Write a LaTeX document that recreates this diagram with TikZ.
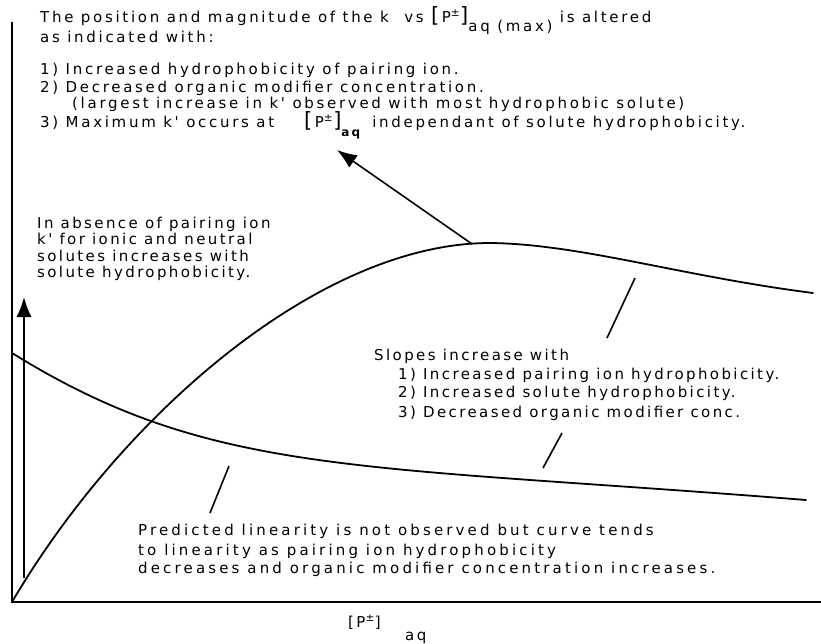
\documentclass[tikz,border=0pt]{standalone}
\usepackage{fontspec}
\usetikzlibrary{arrows.meta}
\newfontfamily\topfont{DejaVu Sans}[LetterSpace=18]
\newfontfamily\midfont{DejaVu Sans}[LetterSpace=16]
\newfontfamily\botfont{DejaVu Sans}[LetterSpace=21]
\newfontfamily\brfont{DejaVu Sans}
\newcommand\toplbl{\topfont\fontsize{15}{18}\selectfont}
\newcommand\midlbl{\midfont\fontsize{15}{18}\selectfont}
\newcommand\botlbl{\botfont\fontsize{15}{18}\selectfont}
\newcommand\bigbr[1]{{\brfont\fontsize{21}{21}\selectfont #1}}
\newcommand\PPbig{\bigbr{[}\,P\textsuperscript{±}\bigbr{]}}
\begin{document}
\begin{tikzpicture}[x=1pt,y=-1pt,
  ax/.style={line width=2pt},
  crv/.style={line width=1.8pt, line join=round, line cap=round},
  tickln/.style={line width=1.6pt},
  arr/.style={line width=1.6pt,-{Latex[length=20pt,width=15pt]}},
  txt/.style={anchor=base west, inner sep=0pt},
  toptxt/.style={txt, font=\toplbl},
  midtxt/.style={txt, font=\midlbl},
  bottxt/.style={txt, font=\botlbl}]
\useasboundingbox (0,0) rectangle (821,643);
% axes
\coordinate (O) at (12,602);
\coordinate (ytop) at (12,22);
\coordinate (xend) at (821,602);
\draw[ax] (ytop) -- (O) -- (xend);
% rising curve with maximum
\coordinate (peak) at (490,243);
\coordinate (rend) at (813,293);
\draw[crv] (O) .. controls (122,415) and (320,243) .. (peak)
                .. controls (580,244) and (680,276) .. (rend);
% falling curve
\coordinate (fs) at (12,353);
\coordinate (fe) at (806,500);
\draw[crv] (fs) .. controls (212,477) and (356,464) .. (fe);
% arrows
\coordinate (vb) at (24,578);
\coordinate (vt) at (24,297);
\draw[arr] (vb) -- (vt);
\coordinate (pk) at (472,244);
\coordinate (pt) at (337,150);
\draw[arr] (pk) -- (pt);
% pointer strokes
\coordinate (a1) at (635,278); \coordinate (a2) at (607,338);
\coordinate (b1) at (562,433); \coordinate (b2) at (543,468);
\coordinate (c1) at (229,466); \coordinate (c2) at (210,513);
\draw[tickln] (a1) -- (a2);
\draw[tickln] (b1) -- (b2);
\draw[tickln] (c1) -- (c2);
% top text
\node[toptxt] (t1) at (40,22) {The position and magnitude of the k\hspace{8pt} vs \PPbig\raisebox{-9pt}{aq (max)} is altered};
\node[toptxt] (t2) at (40,42) {as indicated with:};
\node[toptxt] (t3) at (40,74) {1) Increased hydrophobicity of pairing ion.};
\node[toptxt] (t4) at (40,92) {2) Decreased organic modifier concentration.};
\node[toptxt] (t5) at (72,108) {(largest increase in k' observed with most hydrophobic solute)};
\node[toptxt] (t6) at (40,127) {3) Maximum k' occurs at\hspace{30pt}\PPbig\raisebox{-9pt}{\bfseries\fontsize{12}{12}\selectfont aq}\hspace{12pt}independant of solute hydrophobicity.};
% left text
\node[midtxt] (l1) at (37,228) {In absence of pairing ion};
\node[midtxt] (l2) at (37,244) {k' for ionic and neutral};
\node[midtxt] (l3) at (37,261) {solutes increases with};
\node[midtxt] (l4) at (37,277) {solute hydrophobicity.};
% slopes text
\node[midtxt] (s0) at (374,360) {Slopes increase with};
\node[midtxt] (s1) at (398,379) {1) Increased pairing ion hydrophobicity.};
\node[midtxt] (s2) at (398,397) {2) Increased solute hydrophobicity.};
\node[midtxt] (s3) at (398,417) {3) Decreased organic modifier conc.};
% bottom text
\node[bottxt] (p1) at (138,535) {Predicted linearity is not observed but curve tends};
\node[bottxt] (p2) at (138,555) {to linearity as pairing ion hydrophobicity};
\node[bottxt] (p3) at (138,573) {decreases and organic modifier concentration increases.};
% axis label
\node[midtxt] (xl) at (348,627) {[P\textsuperscript{±}]};
\node[midtxt] (xs) at (405,640) {aq};
\end{tikzpicture}
\end{document}
